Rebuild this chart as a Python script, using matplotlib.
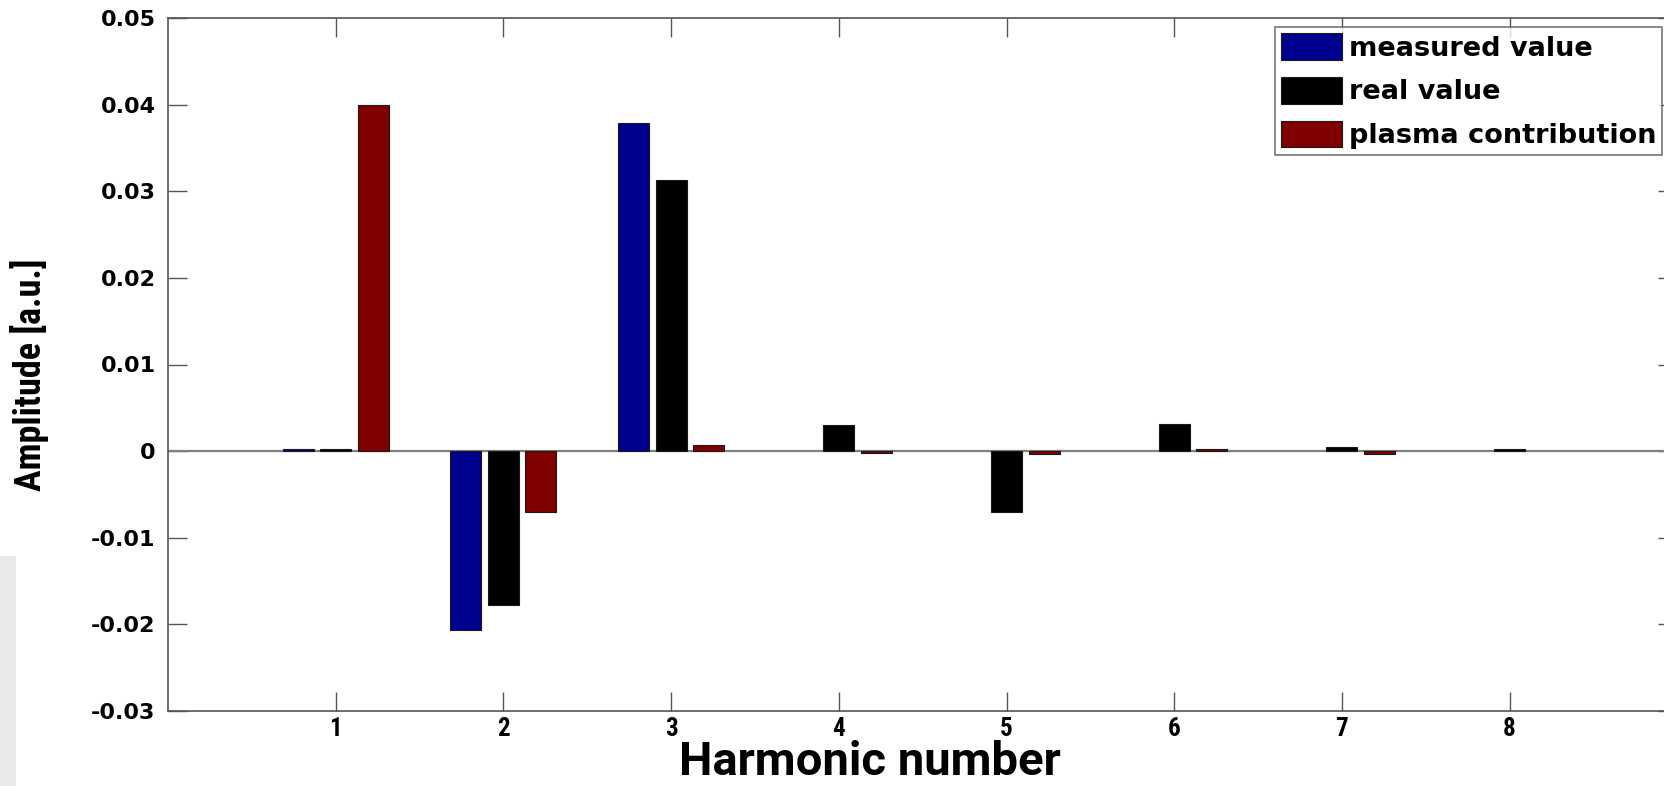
import matplotlib
matplotlib.use("Agg")
import matplotlib.pyplot as plt
import numpy as np
from matplotlib import font_manager
from matplotlib.patches import Rectangle

# ---- data ----
harmonics = [1, 2, 3, 4, 5, 6, 7, 8]
measured = [0.0002, -0.0207, 0.0379, 0.0, 0.0, 0.0, 0.0, 0.0]
real = [0.0002, -0.0178, 0.0313, 0.0030, -0.0070, 0.0031, 0.0005, 0.0002]
plasma = [0.0400, -0.0070, 0.0007, -0.0002, -0.0003, 0.0003, -0.0003, 0.0]
series_labels = ["measured value", "real value", "plasma contribution"]
yticks = [-0.03, -0.02, -0.01, 0, 0.01, 0.02, 0.03, 0.04, 0.05]
ytick_labels = ["-0.03", "-0.02", "-0.01", "0", "0.01", "0.02", "0.03", "0.04", "0.05"]

names = {f.name for f in font_manager.fontManager.ttflist}


def pick(cands, default="DejaVu Sans"):
    for c in cands:
        if c in names:
            return c
    return default


cond = pick(["Roboto Condensed", "Liberation Sans Narrow", "DejaVu Sans Condensed"])
semi = pick(["Roboto", "Liberation Sans"])
heavy = "DejaVu Sans"

W, H = 1664, 786
fig = plt.figure(figsize=(W / 100, H / 100), dpi=100)
fig.patch.set_facecolor("white")
# faint slide background at left bottom
fig.add_artist(Rectangle((0, 0), 16 / W, 230 / H, transform=fig.transFigure,
                         facecolor="#e9e9e9", edgecolor="none", zorder=0))

ax = fig.add_axes([168 / W, 75 / H, 9 * 167.7 / W, 693 / H])

x = np.array(harmonics, dtype=float)
off = 0.224
bw = 0.185
colors = ["#00008F", "#000000", "#800000"]
for vals, dx, c, lab in zip([measured, real, plasma], [-off, 0, off], colors, series_labels):
    lws = [0.8 if v != 0 else 0.0 for v in vals]
    ax.bar(x + dx, vals, width=bw, color=c, edgecolor="#1a1a1a", linewidth=lws,
           label=lab, zorder=3)

ax.axhline(0, color="#808080", lw=1.6, zorder=2)

ax.set_xlim(0, 9)
ax.set_ylim(-0.03, 0.05)
ax.set_xticks(harmonics)
ax.set_xticklabels([str(h) for h in harmonics], fontfamily=cond, fontweight="bold", fontsize=18)
ax.set_yticks(yticks)
ax.set_yticklabels(ytick_labels, fontfamily=heavy, fontweight="bold", fontsize=16)
ax.tick_params(direction="in", length=14, width=1, color="#555555",
               top=True, right=True)
ax.tick_params(axis="y", pad=9)
ax.tick_params(axis="x", pad=4)
for s in ax.spines.values():
    s.set_color("#555555")
    s.set_linewidth(1.2)

ax.set_xlabel("Harmonic number", fontfamily=semi, fontweight="bold", fontsize=34)
ax.xaxis.set_label_coords(0.465, -0.0924)
ax.xaxis.label.set_va("baseline")
ax.set_ylabel("Amplitude [a.u.]", fontfamily=cond, fontweight="bold", fontsize=26)
ax.yaxis.set_label_coords(-0.079, 0.485)

leg = ax.legend(loc="upper left", bbox_to_anchor=((1275 - 168) / (9 * 167.7), 1 - 9 / 693),
                prop={"family": heavy, "weight": "bold", "size": 19.5},
                frameon=True, fancybox=False, borderpad=0.22, handlelength=2.25,
                handleheight=1.15, handletextpad=0.25, labelspacing=0.56, borderaxespad=0)
leg.get_frame().set_edgecolor("#555555")
leg.get_frame().set_linewidth(1.2)

fig.savefig("out.png", dpi=100)
